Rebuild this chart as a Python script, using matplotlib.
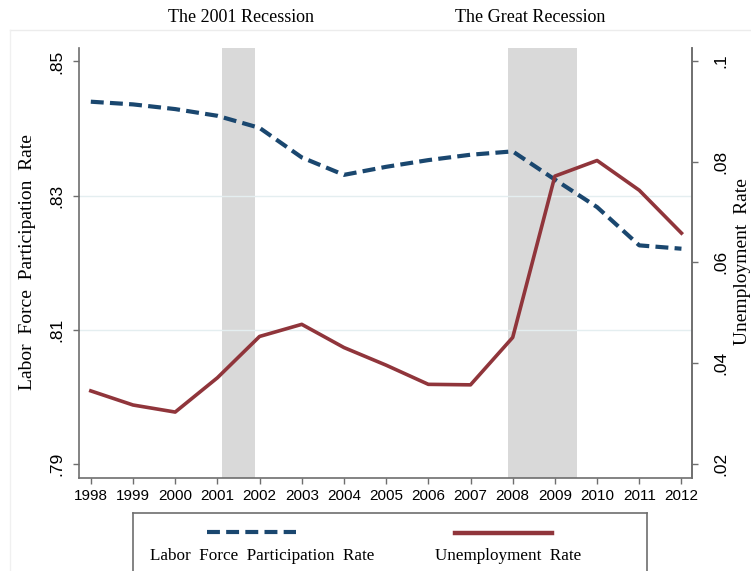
import matplotlib
matplotlib.use("Agg")
import matplotlib.pyplot as plt

years = list(range(1998, 2013))
lfpr = [.8440, .8436, .8429, .8419, .8401, .8357, .8331, .8343, .8353, .8361,
        .8366, .8324, .8283, .8226, .8221]
unemp = [.0345, .0317, .0303, .0371, .0453, .0477, .0431, .0396, .0358, .0357,
         .0451, .0771, .0802, .0743, .0658]
recessions = [(2001.1, 2001.9), (2007.9, 2009.53)]
recession_names = ["The 2001 Recession", "The Great Recession"]
left_ticks = [.79, .81, .83, .85]
left_labels = [".79", ".81", ".83", ".85"]
right_ticks = [.02, .04, .06, .08, .1]
right_labels = [".02", ".04", ".06", ".08", ".1"]

W, H = 751, 571
BLUE = "#1a476f"
RED = "#90353b"
SPINE = "#6e6e6e"
serif = ["Liberation Serif", "DejaVu Serif"]
sans = ["Liberation Sans", "DejaVu Sans"]

def px(x, y):
    # pixel (from top-left) -> figure fraction
    return x / W, 1 - y / H

fig = plt.figure(figsize=(W / 100, H / 100), dpi=100)

# faint outer frame of the screenshot
fig.add_artist(plt.Line2D([10 / W, 1], [1 - 29.5 / H] * 2, color="#ececec", lw=1))
fig.add_artist(plt.Line2D([10 / W] * 2, [0, 1 - 29.5 / H], color="#f0f0f0", lw=1))

x0, y1 = px(79, 48)
x1, y0 = px(692, 478.3)
ax = fig.add_axes([x0, y0, x1 - x0, y1 - y0])
ax2 = ax.twinx()

for (a, b) in recessions:
    ax.axvspan(a, b, color="#d9d9d9", lw=0, zorder=0)

for t in left_ticks[1:-1]:
    ax.axhline(t, color="#e4eef0", lw=1, zorder=0.5)

ax.plot(years, lfpr, color=BLUE, lw=3, dashes=(3.1, 1.5), solid_capstyle="butt", zorder=2)
ax2.plot(years, unemp, color=RED, lw=2.6, zorder=2)

ax.set_xlim(1997.72, 2012.25)
ax.set_ylim(.7879, .852)
ax2.set_ylim(.01716, .10252)

ax.set_xticks(years)
ax.set_xticklabels([str(y) for y in years], family=sans, fontsize=11)
ax.set_yticks(left_ticks)
ax.set_yticklabels(left_labels, family=sans, fontsize=12.5, rotation=90, va="center")
ax2.set_yticks(right_ticks)
ax2.set_yticklabels(right_labels, family=sans, fontsize=12.5, rotation=90, va="center")

for a in (ax, ax2):
    a.spines["top"].set_visible(False)
    for s in ("left", "right", "bottom"):
        a.spines[s].set_color(SPINE)
        a.spines[s].set_linewidth(1.2)
    a.tick_params(length=4.5, width=1, color=SPINE, pad=3)
ax.tick_params(axis="y", pad=6)
ax2.tick_params(axis="y", pad=11)
ax2.spines["left"].set_visible(False)
ax2.spines["bottom"].set_visible(False)

fig.text(*px(28, 262), "Labor  Force  Participation  Rate", family=serif, fontsize=14,
         rotation=90, ha="center", va="center")
fig.text(*px(734, 262), "Unemployment  Rate", family=serif, fontsize=14,
         rotation=90, ha="left", va="center")

fig.text(*px(241, 17), recession_names[0], family=serif, fontsize=13, ha="center", va="center")
fig.text(*px(530, 18), recession_names[1], family=serif, fontsize=13, ha="center", va="center")

# legend box, handles above labels
lx0, ly1 = px(133, 512.7)
lx1, _ = px(647, 0)
lg = fig.add_axes([lx0, -0.01, lx1 - lx0, ly1 + 0.01])
lg.set_xlim(133, 647)
lg.set_ylim(571 + 0.01 * H, 512.7)
lg.set_xticks([])
lg.set_yticks([])
lg.spines["bottom"].set_visible(False)
for s in ("left", "right", "top"):
    lg.spines[s].set_color(SPINE)
    lg.spines[s].set_linewidth(1.2)
lg.plot([207, 296], [532, 532], color=BLUE, lw=3, dashes=(3.1, 1.5))
lg.plot([455, 552], [533, 533], color=RED, lw=3.2)
lg.text(150, 556, "Labor  Force  Participation  Rate", family=serif, fontsize=12.3, va="center")
lg.text(435, 556, "Unemployment  Rate", family=serif, fontsize=12.3, va="center")

fig.savefig("out.png", dpi=100)
